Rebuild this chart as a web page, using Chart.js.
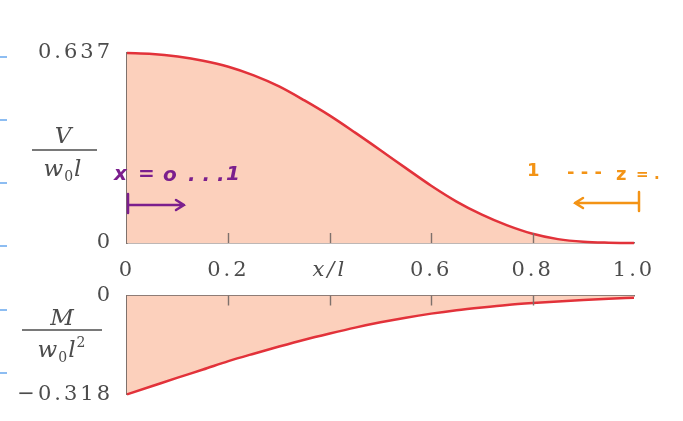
<!DOCTYPE html>
<html>
<head>
<meta charset="utf-8">
<script src="https://cdn.jsdelivr.net/npm/chart.js@4.4.0/dist/chart.umd.min.js"></script>
<style>
  html, body { margin: 0; padding: 0; background: #fff; }
  #wrap { position: relative; width: 683px; height: 421px; overflow: hidden; }
  #chartShear { position: absolute; left: 0; top: 0; }
  #chartMoment { position: absolute; left: 0; top: 269px; }
</style>
</head>
<body>
<div id="wrap">
  <canvas id="chartShear" width="683" height="285"></canvas>
  <canvas id="chartMoment" width="683" height="152"></canvas>
</div>
<script>
// Posiciones a lo largo de la viga (x/l)
const xPositions = [0, 0.05, 0.1, 0.15, 0.2, 0.25, 0.3, 0.35, 0.4, 0.45, 0.5,
                    0.55, 0.6, 0.65, 0.7, 0.75, 0.8, 0.85, 0.9, 0.95, 1.0];
// Cortante adimensional V/(w0 l)
const shearValues = [0.637, 0.634, 0.625, 0.611, 0.591, 0.562, 0.525, 0.478, 0.427, 0.370, 0.311,
                     0.251, 0.192, 0.139, 0.095, 0.059, 0.031, 0.013, 0.004, 0.001, 0];
// Momento adimensional M/(w0 l^2)
const momentValues = [-0.318, -0.291, -0.264, -0.238, -0.211, -0.187, -0.164, -0.142, -0.122, -0.103, -0.086,
                      -0.071, -0.058, -0.047, -0.038, -0.030, -0.024, -0.019, -0.014, -0.010, -0.007];

const xTickValues = [0, 0.2, 0.4, 0.6, 0.8, 1.0];
const xTickLabels = ['0', '0.2', 'x/l', '0.6', '0.8', '1.0'];
const xTickMarks = [0.2, 0.4, 0.6, 0.8];
const shearTickValues = [0, 0.637];
const shearTickLabels = ['0', '0.637'];
const momentTickValues = [-0.318, 0];
const momentTickLabels = ['\u22120.318', '0'];

// Estilos
const AXIS_COLOR = '#7e716c';
const TEXT_COLOR = '#4c4c4c';
const LINE_COLOR = '#e2323a';
const FILL_COLOR = '#fcd0bc';
const PURPLE = '#7b1f8d';
const ORANGE = '#f39315';
const SERIF = '"DejaVu Serif", serif';
const HAND = '"DejaVu Sans", sans-serif';

function toPoints(values) {
  return xPositions.map((x, i) => ({ x: x, y: values[i] }));
}

function fixedTicks(values) {
  return function(scale) {
    scale.ticks = values.map(v => ({ value: v }));
  };
}

// Fracción tipo "num / w0 l"
function drawFraction(ctx, cx, numText, numBase, barY, barX1, barX2, denBase, withSquare) {
  ctx.save();
  ctx.letterSpacing = '0px';
  ctx.fillStyle = TEXT_COLOR;
  ctx.strokeStyle = TEXT_COLOR;
  ctx.textBaseline = 'alphabetic';
  ctx.textAlign = 'center';
  ctx.font = 'italic 23px ' + SERIF;
  ctx.fillText(numText, cx, numBase);

  ctx.lineWidth = 1.3;
  ctx.beginPath();
  ctx.moveTo(barX1, barY);
  ctx.lineTo(barX2, barY);
  ctx.stroke();

  const parts = [
    { t: 'w', f: 'italic 23px ' + SERIF, dy: 0 },
    { t: '0', f: '14px ' + SERIF, dy: 5 },
    { t: 'l', f: 'italic 23px ' + SERIF, dy: 0 }
  ];
  if (withSquare) parts.push({ t: '2', f: '14px ' + SERIF, dy: -10 });
  let total = 0;
  parts.forEach(p => { ctx.font = p.f; p.w = ctx.measureText(p.t).width + 1; total += p.w; });
  let x = cx - total / 2;
  ctx.textAlign = 'left';
  parts.forEach(p => {
    ctx.font = p.f;
    ctx.fillText(p.t, x, denBase + p.dy);
    x += p.w;
  });
  ctx.restore();
}

function drawMarginMarks(ctx, ys) {
  ctx.save();
  ctx.fillStyle = '#8dbdf2';
  ys.forEach(y => ctx.fillRect(0, y - 1, 7, 2));
  ctx.restore();
}

// Marcas de división hacia dentro del área de la gráfica
function drawInnerTicks(chart, yPixel, dir) {
  const ctx = chart.ctx;
  const xs = chart.scales.x;
  ctx.save();
  ctx.strokeStyle = AXIS_COLOR;
  ctx.lineWidth = 1.4;
  ctx.beginPath();
  xTickMarks.forEach(v => {
    const px = Math.round(xs.getPixelForValue(v)) + 0.5;
    ctx.moveTo(px, yPixel);
    ctx.lineTo(px, yPixel + dir * 10);
  });
  ctx.stroke();
  ctx.restore();
}

function drawArrow(ctx, color, barX, fromX, toX, y) {
  ctx.save();
  ctx.strokeStyle = color;
  ctx.lineWidth = 2.5;
  ctx.lineCap = 'round';
  ctx.beginPath();
  ctx.moveTo(barX, y - 11);
  ctx.lineTo(barX, y + 8);
  ctx.moveTo(fromX, y);
  ctx.lineTo(toX, y);
  const dir = toX > fromX ? -1 : 1;
  ctx.moveTo(toX + dir * 8, y - 5);
  ctx.lineTo(toX, y);
  ctx.lineTo(toX + dir * 8, y + 5);
  ctx.stroke();
  ctx.restore();
}

const letterSpacingPlugin = {
  id: 'letterSpacing',
  beforeDraw(chart) {
    chart.ctx.letterSpacing = '3px';
  }
};

const shearDecor = {
  id: 'shearDecor',
  afterDatasetsDraw(chart) {
    drawInnerTicks(chart, chart.chartArea.bottom, -1);
  },
  afterDraw(chart) {
    const ctx = chart.ctx;
    ctx.letterSpacing = '0px';
    drawFraction(ctx, 63, 'V', 143, 150, 32, 97, 176, false);
    drawMarginMarks(ctx, [57, 120, 183, 246]);

    // anotaciones a mano
    ctx.save();
    ctx.textBaseline = 'alphabetic';
    ctx.fillStyle = PURPLE;
    ctx.font = 'bold italic 20px ' + HAND;
    ctx.fillText('x', 114, 180);
    ctx.fillText('=', 138, 180);
    ctx.fillText('o', 163, 181);
    ctx.fillText('. . .', 188, 181);
    ctx.fillText('1', 226, 180);
    ctx.fillStyle = ORANGE;
    ctx.font = 'bold 18px ' + HAND;
    ctx.fillText('1', 527, 176);
    ctx.fillText('- - -', 567, 178);
    ctx.fillText('z', 616, 180);
    ctx.font = 'bold 15px ' + HAND;
    ctx.fillText('=', 636, 179);
    ctx.fillText('.', 654, 179);
    ctx.restore();
    drawArrow(ctx, PURPLE, 128, 128, 184, 205);
    drawArrow(ctx, ORANGE, 639, 639, 575, 203);
  }
};

const momentDecor = {
  id: 'momentDecor',
  afterDatasetsDraw(chart) {
    drawInnerTicks(chart, chart.chartArea.top, 1);
  },
  afterDraw(chart) {
    const ctx = chart.ctx;
    ctx.letterSpacing = '0px';
    const off = 269;
    drawFraction(ctx, 62, 'M', 325 - off, 330 - off, 22, 102, 357 - off, true);
    drawMarginMarks(ctx, [310 - off, 373 - off]);
  }
};

function xScale(position, showLabels, height) {
  return {
    type: 'linear',
    position: position,
    min: 0,
    max: 1,
    z: 1,
    afterBuildTicks: fixedTicks(xTickValues),
    afterFit(scale) { scale.height = height; },
    grid: { display: false, drawTicks: false },
    border: { display: true, color: AXIS_COLOR, width: 1.6 },
    ticks: {
      display: showLabels,
      autoSkip: false,
      maxRotation: 0,
      padding: 15,
      color: TEXT_COLOR,
      font: ctx => ({ family: SERIF, size: 21, style: ctx.index === 2 ? 'italic' : 'normal' }),
      callback: (value, index) => xTickLabels[index]
    }
  };
}

function yScale(min, max, tickValues, tickLabels) {
  return {
    type: 'linear',
    min: min,
    max: max,
    z: 1,
    afterBuildTicks: fixedTicks(tickValues),
    afterFit(scale) { scale.width = 127; },
    grid: { display: false, drawTicks: false },
    border: { display: true, color: AXIS_COLOR, width: 1.6 },
    ticks: {
      padding: 14,
      color: TEXT_COLOR,
      font: { family: SERIF, size: 21 },
      callback: (value, index) => tickLabels[index]
    }
  };
}

function dataset(values) {
  return {
    data: toPoints(values),
    borderColor: LINE_COLOR,
    borderWidth: 2.5,
    backgroundColor: FILL_COLOR,
    fill: 'origin',
    pointRadius: 0,
    cubicInterpolationMode: 'monotone',
    clip: 4
  };
}

const commonOptions = {
  responsive: false,
  animation: false,
  plugins: { legend: { display: false }, tooltip: { enabled: false } }
};

new Chart(document.getElementById('chartShear').getContext('2d'), {
  type: 'line',
  data: { datasets: [dataset(shearValues)] },
  options: Object.assign({}, commonOptions, {
    layout: { padding: { top: 53, right: 49, left: 0, bottom: 0 } },
    scales: {
      x: xScale('bottom', true, 42),
      y: yScale(0, 0.637, shearTickValues, shearTickLabels)
    }
  }),
  plugins: [letterSpacingPlugin, shearDecor]
});

new Chart(document.getElementById('chartMoment').getContext('2d'), {
  type: 'line',
  data: { datasets: [dataset(momentValues)] },
  options: Object.assign({}, commonOptions, {
    layout: { padding: { top: 0, right: 49, left: 0, bottom: 26 } },
    scales: {
      x: xScale('top', false, 12),
      y: yScale(-0.318, 0, momentTickValues, momentTickLabels)
    }
  }),
  plugins: [letterSpacingPlugin, momentDecor]
});
</script>
</body>
</html>
